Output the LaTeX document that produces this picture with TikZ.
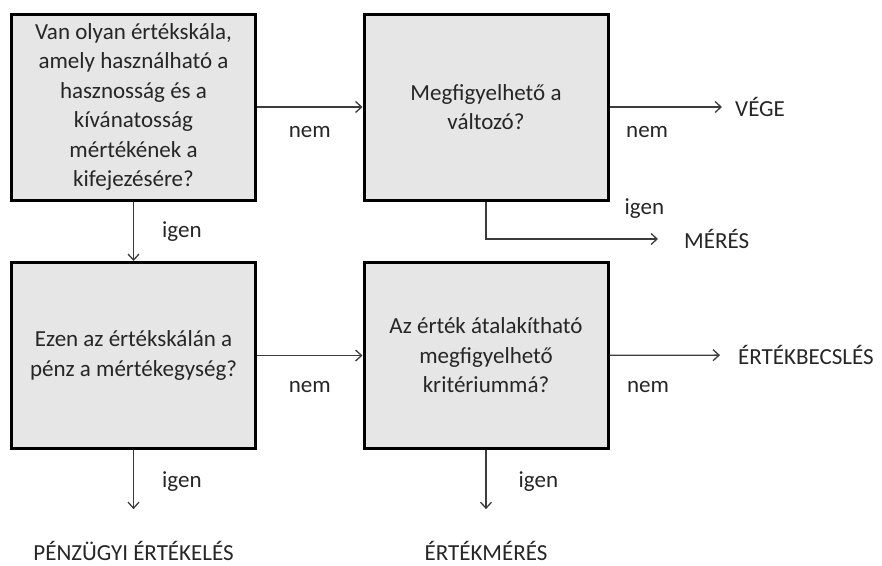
\documentclass[tikz,border=0pt]{standalone}
\usepackage{fontspec}
\setmainfont{Carlito}
\usetikzlibrary{arrows.meta}
\definecolor{boxgray}{HTML}{E6E6E6}
\definecolor{linegray}{HTML}{3C3C3C}
\definecolor{textgray}{HTML}{262626}
\tikzstyle{question}=[rectangle, draw, line width=3pt, fill=boxgray, minimum width=244pt, minimum height=186pt, align=center, inner sep=0pt]
\tikzstyle{result}=[inner sep=0pt]
\tikzstyle{answer}=[inner sep=0pt]
\tikzstyle{flow}=[draw=linegray, line width=1.3pt, -{Straight Barb[length=6pt, width=11pt]}]

\begin{document}
\begin{tikzpicture}[x=1pt, y=-1pt, text=textgray, font=\fontsize{23}{29.5}\selectfont]
    \useasboundingbox (0,0) rectangle (882,565);
    \node[question] (q1) at (133.5,107) {Van olyan értékskála,\\amely használható a\\hasznosság és a\\kívánatosság\\mértékének a\\kifejezésére?};
    \node[question] (q2) at (486,107) {Megfigyelhető a\\változó?};
    \node[question] (q3) at (133.5,355.5) {Ezen az értékskálán a\\pénz a mértékegység?};
    \node[question] (q4) at (486,355.5) {Az érték átalakítható\\megfigyelhető\\kritériummá?};
    \node[result, anchor=west] (vege) at (735,107) {VÉGE};
    \node[result, anchor=west] (meres) at (684,239) {MÉRÉS};
    \node[result, anchor=west] (becsles) at (738,355) {ÉRTÉKBECSLÉS};
    \node[result] (penzugyi) at (133.5,551) {PÉNZÜGYI ÉRTÉKELÉS};
    \node[result] (ertekmeres) at (486,551) {ÉRTÉKMÉRÉS};
    \draw[flow] (q1) -- (q2) node[answer, midway, below=19pt] {nem};
    \draw[flow, shorten >=13pt] (q2) -- (vege) node[answer, pos=0.3, below=19pt] {nem};
    \draw[flow, shorten >=26pt] (q2.south) |- (meres) node[answer, pos=0.9, above=20pt] {igen};
    \draw[flow] (q1) -- (q3) node[answer, midway, right=28pt] {igen};
    \draw[flow] (q3) -- (q4) node[answer, midway, below=25pt] {nem};
    \draw[flow, shorten >=18pt] (q4) -- (becsles) node[answer, pos=0.3, below=25pt] {nem};
    \draw[flow, shorten >=32pt] (q3) -- (penzugyi) node[answer, pos=0.35, right=28pt] {igen};
    \draw[flow, shorten >=32pt] (q4) -- (ertekmeres) node[answer, pos=0.35, right=32pt] {igen};
\end{tikzpicture}
\end{document}
